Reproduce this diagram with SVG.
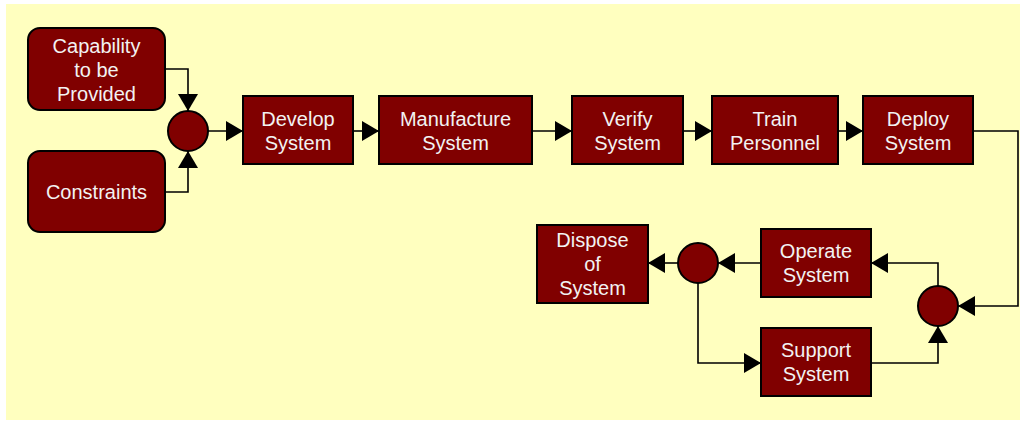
<svg xmlns="http://www.w3.org/2000/svg" width="1024" height="424" viewBox="0 0 1024 424">
<style>
.n{fill:#800000;stroke:#000;stroke-width:2}
.t{fill:#F2F2F2;font-family:"Liberation Sans",Arial,sans-serif;font-size:20px;text-anchor:middle}
.c{fill:none;stroke:#000;stroke-width:1.6}
</style>
<defs>
<marker id="a" markerUnits="userSpaceOnUse" markerWidth="20" markerHeight="22" viewBox="0 0 20 22" refX="18" refY="11" orient="auto">
<path d="M1,1 L18,11 L1,21 Z" fill="#000"/>
</marker>
</defs>
<rect x="0" y="0" width="1024" height="424" fill="#fff"/>
<rect x="6" y="4" width="1014" height="416" fill="#FFFFBF"/>
<g id="connectors">
<path class="c" d="M165,69 H188 V111" marker-end="url(#a)"/>
<path class="c" d="M165,192 H188 V151" marker-end="url(#a)"/>
<path class="c" d="M208,131 H243" marker-end="url(#a)"/>
<path class="c" d="M353,131 H379" marker-end="url(#a)"/>
<path class="c" d="M532,131 H572" marker-end="url(#a)"/>
<path class="c" d="M683,131 H712" marker-end="url(#a)"/>
<path class="c" d="M838,131 H863" marker-end="url(#a)"/>
<path class="c" d="M973,131 H1018 V306 H958" marker-end="url(#a)"/>
<path class="c" d="M938,286 V263 H871" marker-end="url(#a)"/>
<path class="c" d="M871,363 H938 V326" marker-end="url(#a)"/>
<path class="c" d="M761,263 H718" marker-end="url(#a)"/>
<path class="c" d="M678,263 H648" marker-end="url(#a)"/>
<path class="c" d="M698,283 V363 H761" marker-end="url(#a)"/>
</g>
<g id="capability"><rect class="n" x="28" y="28" width="137" height="82" rx="12"/><text class="t"><tspan x="96.5" y="53">Capability</tspan><tspan x="96.5" y="77">to be</tspan><tspan x="96.5" y="101">Provided</tspan></text></g>
<g id="constraints"><rect class="n" x="28" y="151" width="137" height="81" rx="12"/><text class="t" x="96.5" y="199">Constraints</text></g>
<g id="junction1"><circle class="n" cx="188" cy="131" r="20"/></g>
<g id="develop"><rect class="n" x="243" y="96" width="110" height="68"/><text class="t"><tspan x="298" y="126">Develop</tspan><tspan x="298" y="150">System</tspan></text></g>
<g id="manufacture"><rect class="n" x="379" y="96" width="153" height="68"/><text class="t"><tspan x="455.5" y="126">Manufacture</tspan><tspan x="455.5" y="150">System</tspan></text></g>
<g id="verify"><rect class="n" x="572" y="96" width="111" height="68"/><text class="t"><tspan x="627.5" y="126">Verify</tspan><tspan x="627.5" y="150">System</tspan></text></g>
<g id="train"><rect class="n" x="712" y="96" width="126" height="68"/><text class="t"><tspan x="775" y="126">Train</tspan><tspan x="775" y="150">Personnel</tspan></text></g>
<g id="deploy"><rect class="n" x="863" y="96" width="110" height="68"/><text class="t"><tspan x="918" y="126">Deploy</tspan><tspan x="918" y="150">System</tspan></text></g>
<g id="junction2"><circle class="n" cx="938" cy="306" r="20"/></g>
<g id="operate"><rect class="n" x="761" y="229" width="110" height="68"/><text class="t"><tspan x="816" y="258">Operate</tspan><tspan x="816" y="282">System</tspan></text></g>
<g id="support"><rect class="n" x="761" y="328" width="110" height="68"/><text class="t"><tspan x="816" y="357">Support</tspan><tspan x="816" y="381">System</tspan></text></g>
<g id="junction3"><circle class="n" cx="698" cy="263" r="20"/></g>
<g id="dispose"><rect class="n" x="537" y="225" width="111" height="78"/><text class="t"><tspan x="592.5" y="247">Dispose</tspan><tspan x="592.5" y="271">of</tspan><tspan x="592.5" y="295">System</tspan></text></g>
</svg>
